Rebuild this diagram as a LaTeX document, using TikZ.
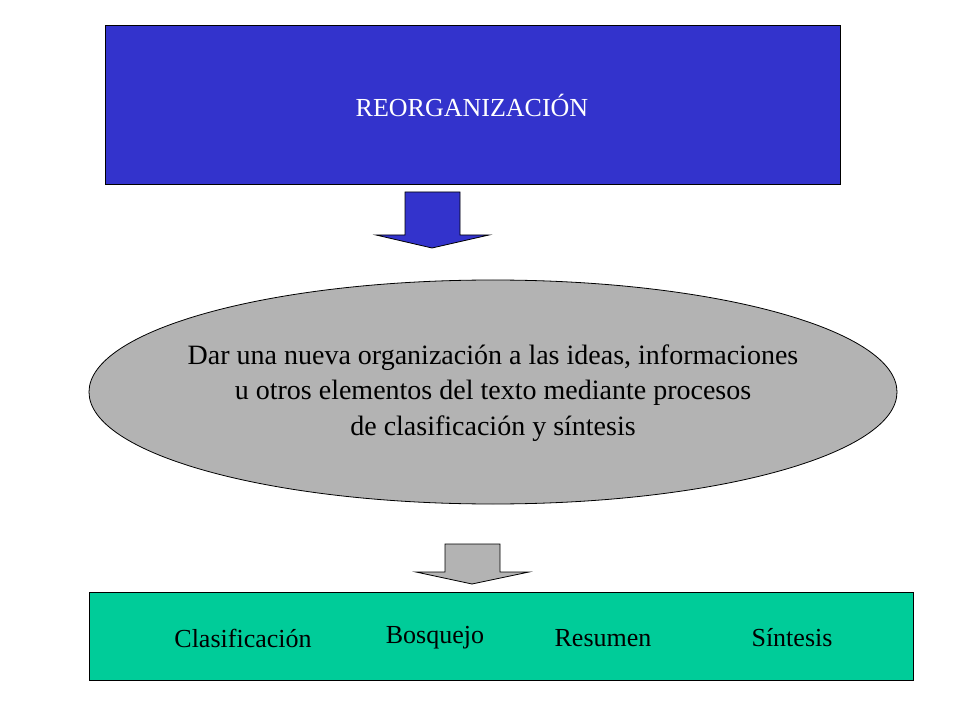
\documentclass[tikz,border=0pt]{standalone}
\usepackage{fontspec}
\setmainfont{Liberation Serif}
\usetikzlibrary{shapes.geometric}
\definecolor{topblue}{HTML}{3333CC}
\definecolor{ellgray}{HTML}{B3B3B3}
\definecolor{botgreen}{HTML}{00CC99}
\begin{document}
\begin{tikzpicture}[x=0.75pt,y=-0.75pt,
  txt/.style={font=\fontsize{19.5pt}{26pt}\selectfont},
  arrowshape/.style={draw=black,line width=0.6pt}]
\useasboundingbox (0,0) rectangle (960,720);
\fill[white] (0,0) rectangle (960,720);
\draw[fill=topblue,line width=0.6pt] (105,25) rectangle (840,184);
\node[txt,text=white] (top) at (472,105) {REORGANIZACIÓN};
\draw[arrowshape,fill=topblue] (405,192) -- (460,192) -- (460,235) -- (489,235) -- (432,248) -- (376,235) -- (405,235) -- cycle;
\node[ellipse,draw,fill=ellgray,line width=0.6pt,minimum width=808\pgflinewidth/0.6*0.75,inner sep=0pt] (ell) at (493,392) {};
\draw[fill=ellgray,line width=0.6pt] (493,392) ellipse [x radius=404, y radius=112];
\node[txt,align=center,font=\fontsize{21pt}{26.5pt}\selectfont] (desc) at (493,393) {Dar una nueva organización a las ideas, informaciones\\u otros elementos del texto mediante procesos\\de clasificación y síntesis};
\draw[arrowshape,fill=ellgray] (445,544) -- (500,544) -- (500,572) -- (529,572) -- (472,584) -- (416,572) -- (445,572) -- cycle;
\draw[fill=botgreen,line width=0.6pt] (89,592) rectangle (913,680);
\node[txt] (c1) at (243,638) {Clasificación};
\node[txt] (c2) at (435,638) {Bosquejo};
\node[txt] (c3) at (603,638) {Resumen};
\node[txt] (c4) at (792,638) {Síntesis};
\end{tikzpicture}
\end{document}
